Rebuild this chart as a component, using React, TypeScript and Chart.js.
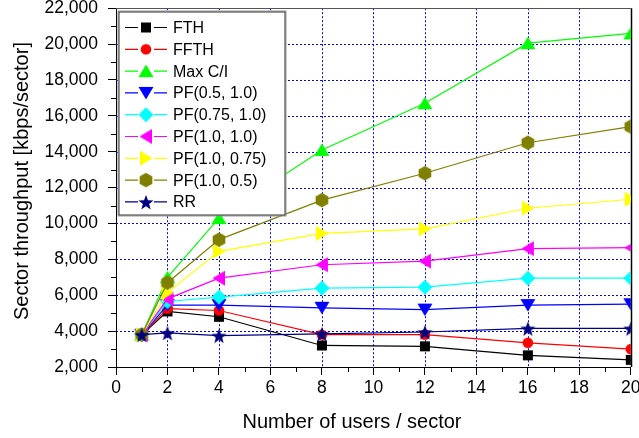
import React, { useEffect, useRef } from 'react';
import { Chart, registerables } from 'chart.js';

Chart.register(...registerables);

const FONT = '"Liberation Sans", Arial, Helvetica, sans-serif';

const xValues = [1, 2, 4, 8, 12, 16, 20];
const xTickValues = [0, 2, 4, 6, 8, 10, 12, 14, 16, 18, 20];
const yTickValues = [2000, 4000, 6000, 8000, 10000, 12000, 14000, 16000, 18000, 20000, 22000];
const xTitle = 'Number of users / sector';
const yTitle = 'Sector throughput [kbps/sector]';

const seriesNames = ['FTH', 'FFTH', 'Max C/I', 'PF(0.5, 1.0)', 'PF(0.75, 1.0)', 'PF(1.0, 1.0)', 'PF(1.0, 0.75)', 'PF(1.0, 0.5)', 'RR'];
const fth = [3800, 5100, 4800, 3200, 3150, 2650, 2400];
const ffth = [3800, 5250, 5150, 3800, 3800, 3350, 3000];
const maxCI = [3800, 7000, 10300, 14100, 16700, 20050, 20600];
const pf05_10 = [3800, 5450, 5450, 5300, 5200, 5450, 5500];
const pf075_10 = [3800, 5650, 5900, 6400, 6450, 6950, 6950];
const pf10_10 = [3800, 5800, 6950, 7700, 7900, 8600, 8650];
const pf10_075 = [3800, 6150, 8450, 9450, 9700, 10850, 11350];
const pf10_05 = [3800, 6700, 9100, 11300, 12800, 14500, 15400];
const rr = [3800, 3900, 3750, 3850, 3950, 4150, 4150];

const seriesValues = [fth, ffth, maxCI, pf05_10, pf075_10, pf10_10, pf10_075, pf10_05, rr];
const seriesColors = ['#000000', '#ff0000', '#00ff00', '#0000ff', '#00ffff', '#ff00ff', '#ffff00', '#808000', '#000080'];
const seriesShapes = ['square', 'circle', 'triUp', 'triDown', 'diamond', 'triLeft', 'triRight', 'hexagon', 'star'];

function makeMarker(shape: string, color: string): HTMLCanvasElement {
  const s = 18;
  const c = document.createElement('canvas');
  c.width = s;
  c.height = s;
  const ctx = c.getContext('2d')!;
  const cx = s / 2;
  const cy = s / 2;
  ctx.fillStyle = color;
  ctx.beginPath();
  switch (shape) {
    case 'square':
      ctx.rect(cx - 5, cy - 5, 10, 10);
      break;
    case 'circle':
      ctx.arc(cx, cy, 5.3, 0, Math.PI * 2);
      break;
    case 'triUp':
      ctx.moveTo(cx, cy - 6.5);
      ctx.lineTo(cx + 7.5, cy + 6);
      ctx.lineTo(cx - 7.5, cy + 6);
      break;
    case 'triDown':
      ctx.moveTo(cx, cy + 6.5);
      ctx.lineTo(cx + 7.5, cy - 6);
      ctx.lineTo(cx - 7.5, cy - 6);
      break;
    case 'triLeft':
      ctx.moveTo(cx - 6.5, cy);
      ctx.lineTo(cx + 6, cy - 7.5);
      ctx.lineTo(cx + 6, cy + 7.5);
      break;
    case 'triRight':
      ctx.moveTo(cx + 6.5, cy);
      ctx.lineTo(cx - 6, cy - 7.5);
      ctx.lineTo(cx - 6, cy + 7.5);
      break;
    case 'diamond':
      ctx.moveTo(cx, cy - 7.5);
      ctx.lineTo(cx + 7.5, cy);
      ctx.lineTo(cx, cy + 7.5);
      ctx.lineTo(cx - 7.5, cy);
      break;
    case 'hexagon':
      for (let k = 0; k < 6; k++) {
        const a = -Math.PI / 2 + (k * Math.PI) / 3;
        const px = cx + 7.3 * Math.cos(a);
        const py = cy + 7.3 * Math.sin(a);
        if (k === 0) ctx.moveTo(px, py);
        else ctx.lineTo(px, py);
      }
      break;
    case 'star':
      for (let k = 0; k < 10; k++) {
        const a = -Math.PI / 2 + (k * Math.PI) / 5;
        const r = k % 2 === 0 ? 8 : 3.3;
        const px = cx + r * Math.cos(a);
        const py = cy + 1 + r * Math.sin(a);
        if (k === 0) ctx.moveTo(px, py);
        else ctx.lineTo(px, py);
      }
      break;
  }
  ctx.closePath();
  ctx.fill();
  return c;
}

export default function App() {
  const canvasRef = useRef<HTMLCanvasElement | null>(null);

  useEffect(() => {
    if (!canvasRef.current) return;
    const markers = seriesShapes.map((sh, i) => makeMarker(sh, seriesColors[i]));

    const datasets = seriesNames.map((name, i) => ({
      label: name,
      data: xValues.map((x, j) => ({ x, y: seriesValues[i][j] })),
      borderColor: seriesColors[i],
      backgroundColor: seriesColors[i],
      borderWidth: 1.2,
      pointStyle: markers[i],
      pointRadius: 7,
      tension: 0,
      order: seriesNames.length - i,
    }));

    const gridPlugin = {
      id: 'customGrid',
      beforeDatasetsDraw(chart: any) {
        const { ctx, chartArea } = chart;
        const { left, right, top, bottom } = chartArea;
        const xs = chart.scales.x;
        const ys = chart.scales.y;
        ctx.save();
        ctx.strokeStyle = '#0000ff';
        ctx.lineWidth = 1;
        ctx.setLineDash([2, 2]);
        for (const v of xTickValues) {
          if (v === 0 || v === 20) continue;
          const px = Math.round(xs.getPixelForValue(v)) + 0.5;
          ctx.beginPath();
          ctx.moveTo(px, top);
          ctx.lineTo(px, bottom);
          ctx.stroke();
        }
        for (const v of yTickValues) {
          if (v === 2000 || v === 22000) continue;
          const py = Math.round(ys.getPixelForValue(v)) + 0.5;
          ctx.beginPath();
          ctx.moveTo(left, py);
          ctx.lineTo(right, py);
          ctx.stroke();
        }
        ctx.setLineDash([]);
        // minor ticks
        ctx.strokeStyle = '#000';
        for (let i = 0; i < xTickValues.length - 1; i++) {
          const v = (xTickValues[i] + xTickValues[i + 1]) / 2;
          const px = Math.round(xs.getPixelForValue(v)) + 0.5;
          ctx.beginPath();
          ctx.moveTo(px, bottom);
          ctx.lineTo(px, bottom + 5);
          ctx.stroke();
        }
        for (let i = 0; i < yTickValues.length - 1; i++) {
          const v = (yTickValues[i] + yTickValues[i + 1]) / 2;
          const py = Math.round(ys.getPixelForValue(v)) + 0.5;
          ctx.beginPath();
          ctx.moveTo(left - 5, py);
          ctx.lineTo(left, py);
          ctx.stroke();
        }
        // frame top & right
        ctx.strokeStyle = '#555';
        ctx.beginPath();
        ctx.moveTo(left, Math.round(top) + 0.5);
        ctx.lineTo(right, Math.round(top) + 0.5);
        ctx.stroke();
        ctx.strokeStyle = '#000';
        ctx.lineWidth = 1.5;
        ctx.beginPath();
        ctx.moveTo(Math.round(right) + 0.5, top);
        ctx.lineTo(Math.round(right) + 0.5, bottom);
        ctx.stroke();
        ctx.restore();
      },
    };

    const legendPlugin = {
      id: 'customLegend',
      afterDraw(chart: any) {
        const { ctx } = chart;
        ctx.save();
        // axis titles
        ctx.fillStyle = '#000';
        ctx.font = `20px ${FONT}`;
        ctx.textAlign = 'center';
        ctx.textBaseline = 'middle';
        ctx.fillText(xTitle, 352, 422);
        ctx.save();
        ctx.translate(22, 181);
        ctx.rotate(-Math.PI / 2);
        ctx.fillText(yTitle, 0, 0);
        ctx.restore();

        // legend box
        const bx = 118.5;
        const by = 11.5;
        const bw = 167;
        const bh = 204;
        ctx.fillStyle = '#ffffff';
        ctx.fillRect(bx, by, bw, bh);
        ctx.strokeStyle = '#999';
        ctx.lineWidth = 1;
        ctx.strokeRect(bx - 0.5, by - 0.5, bw + 1, bh + 1);
        ctx.strokeStyle = '#333';
        ctx.strokeRect(bx + 0.5, by + 0.5, bw - 1, bh - 1);
        ctx.font = `16px ${FONT}`;
        ctx.textBaseline = 'middle';
        ctx.textAlign = 'left';
        const rowH = 21.8;
        for (let i = 0; i < seriesNames.length; i++) {
          const cy = 27.5 + i * rowH;
          ctx.strokeStyle = seriesColors[i];
          ctx.lineWidth = 1.2;
          ctx.beginPath();
          ctx.moveTo(125, cy);
          ctx.lineTo(138, cy);
          ctx.moveTo(154, cy);
          ctx.lineTo(167, cy);
          ctx.stroke();
          const m = markers[i];
          ctx.drawImage(m, 146 - m.width / 2, cy - m.height / 2);
          ctx.fillStyle = '#000';
          ctx.fillText(seriesNames[i], 173, cy + 1);
        }
        ctx.restore();
      },
    };

    const chart = new Chart(canvasRef.current, {
      type: 'line',
      data: { datasets: datasets as any },
      options: {
        animation: false,
        responsive: false,
        maintainAspectRatio: false,
        layout: { padding: { top: 8, right: 8, left: 0, bottom: 0 } },
        plugins: { legend: { display: false }, tooltip: { enabled: false } },
        scales: {
          x: {
            type: 'linear',
            min: 0,
            max: 20,
            afterBuildTicks: (scale: any) => {
              scale.ticks = xTickValues.map((v) => ({ value: v }));
            },
            ticks: {
              color: '#000',
              font: { size: 17.5, family: FONT },
              padding: 3,
              maxRotation: 0,
              autoSkip: false,
              callback: (v: any) => String(v),
            },
            grid: { drawOnChartArea: false, color: '#000', tickLength: 8, tickWidth: 1 },
            border: { color: '#000', width: 1 },
            title: { display: false },
            afterFit: (s: any) => {
              s.height = 71;
              s.paddingLeft = 0;
              s.paddingRight = 0;
            },
          },
          y: {
            type: 'linear',
            min: 2000,
            max: 22000,
            afterBuildTicks: (scale: any) => {
              scale.ticks = yTickValues.map((v) => ({ value: v }));
            },
            ticks: {
              color: '#000',
              font: { size: 17.5, family: FONT },
              padding: 10,
              autoSkip: false,
              callback: (v: any) => Number(v).toLocaleString('en-US'),
            },
            grid: { drawOnChartArea: false, color: '#000', tickLength: 8, tickWidth: 1 },
            border: { color: '#000', width: 1 },
            title: { display: false },
            afterFit: (s: any) => {
              s.width = 116;
              s.paddingTop = 0;
              s.paddingBottom = 0;
            },
          },
        },
      } as any,
      plugins: [gridPlugin, legendPlugin],
    });

    return () => chart.destroy();
  }, []);

  return (
    <div style={{ position: 'absolute', left: 0, top: 0, width: 639, height: 438, background: '#fff' }}>
      <canvas ref={canvasRef} width={639} height={438} style={{ display: 'block' }} />
    </div>
  );
}
